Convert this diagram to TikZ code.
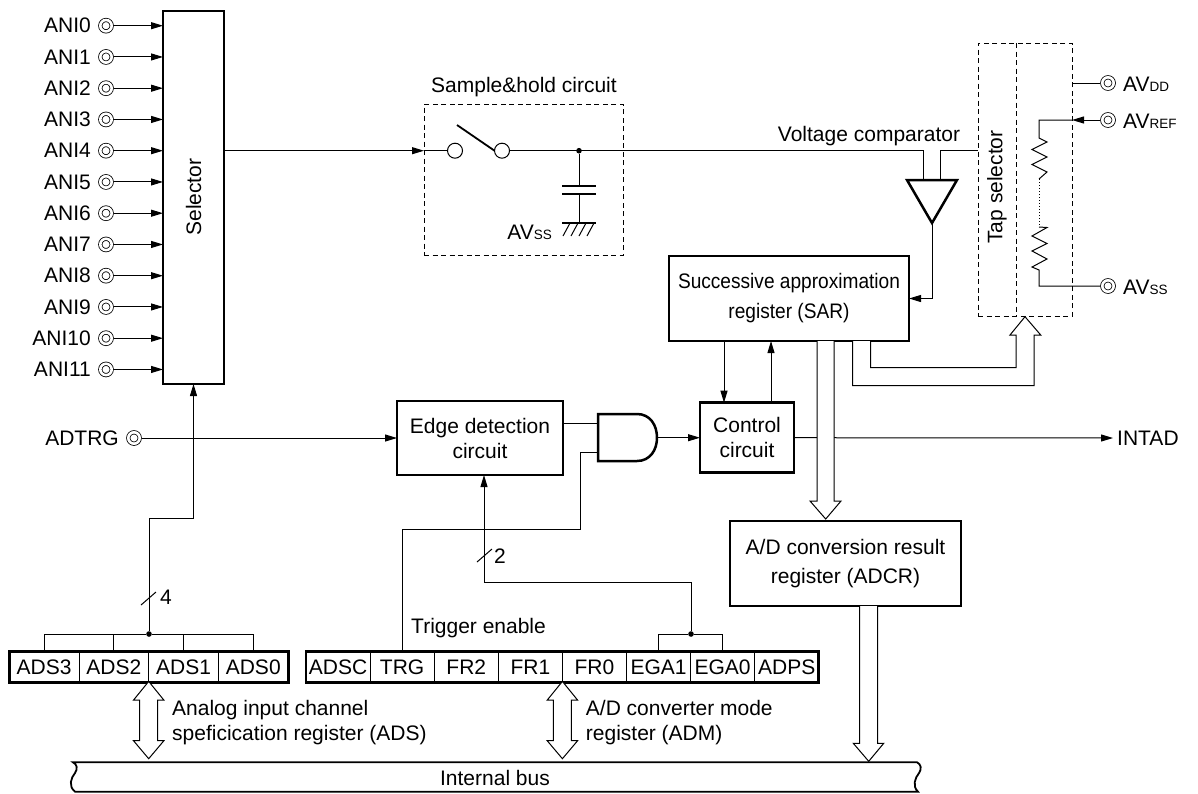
\documentclass[tikz,border=0pt]{standalone}
\usepackage{fontspec}
\setmainfont{Liberation Sans}
\newfontfamily\narrowfont[FakeStretch=0.91]{Liberation Sans}
\usetikzlibrary{arrows.meta,calc}
\newcommand{\lowtext}[1]{{\fontsize{13.5}{14}\selectfont #1}}
\newcommand{\busboth}[1]{\draw[bus] ([yshift=1.3pt]#1) -- ++(15.2,18.7) -- ++(-6.2,0) -- ++(0,40.6) -- ++(6.2,0) -- ++(-15.2,18) -- ++(-15.2,-18) -- ++(6.2,0) -- ++(0,-40.6) -- ++(-6.2,0) -- cycle;}

\begin{document}
\begin{tikzpicture}[x=1pt,y=-1pt,
  every node/.style={font=\fontsize{21}{25}\selectfont},
  wire/.style={line width=1pt},
  conn/.style={line width=1pt, -{Stealth[length=12pt,width=7pt,inset=0pt]}},
  regbox/.style={draw, line width=2.8pt, fill=white, inner sep=0pt, outer sep=0pt, align=center},
  cell/.style={draw, line width=1pt, inner sep=0pt, outer sep=0pt, minimum height=31pt},
  dashbox/.style={draw, line width=1pt, dash pattern=on 5pt off 3.5pt, inner sep=0pt, outer sep=0pt},
  terminal/.style={circle, draw, line width=.8pt, double, double distance=2.6pt, minimum size=11.4pt, inner sep=0pt, outer sep=2pt},
  contact/.style={circle, draw, line width=1pt, fill=white, minimum size=15pt, inner sep=0pt, outer sep=0pt},
  junction/.style={circle, fill=black, minimum size=5.6pt, inner sep=0pt, outer sep=0pt},
  gate/.style={line width=2.5pt, line join=miter},
  bus/.style={draw, fill=white, line width=1pt, line join=miter}
]
  \useasboundingbox (0,0) rectangle (1198,793);

  \node[regbox, minimum width=61pt, minimum height=373pt] (selector) at (193.5,197.5) {};
  \node[rotate=90, inner sep=0pt] (selectorlbl) at (193.5,197) {Selector};
  \foreach \i in {0,...,11} {
    \node[terminal] (ani\i) at (106,{25.7+31.25*\i}) {};
    \node[anchor=east, inner sep=0pt] (anilbl\i) at (91,{25.7+31.25*\i}) {ANI\i};
    \draw[conn] (ani\i) -- (selector.west |- ani\i);
  }

  \node[dashbox, minimum width=199pt, minimum height=151pt] (sample) at (523.5,179.5) {};
  \node[inner sep=0pt] (samplelbl) at (524,87) {Sample\&hold circuit};
  \node[contact] (sw1) at (455,150.7) {};
  \node[contact] (sw2) at (502,150.7) {};
  \node[junction] (capdot) at (579,150.7) {};
  \coordinate (capa) at (579,186);
  \coordinate (capb) at (579,194);
  \coordinate (capgnd) at (579,223);
  \draw[conn] (selector.east |- sw1) -- (sample.west |- sw1);
  \draw[wire] (sample.west |- sw1) -- (sw1);
  \draw[line width=1.8pt] (457,125) -- (sw2.west);
  \draw[wire] (capdot) -- (capa);
  \draw[wire] (capb) -- (capgnd);
  \draw[line width=2pt] ([xshift=-17pt]capa) -- ([xshift=17pt]capa);
  \draw[line width=2pt] ([xshift=-17pt]capb) -- ([xshift=17pt]capb);
  \draw[line width=2pt] ([xshift=-17pt]capgnd) -- ([xshift=17pt]capgnd);
  \foreach \i in {0,...,3} \draw[wire] ({570+8*\i},223) -- ({563+8*\i},236);
  \node[anchor=east, inner sep=0pt] (capvss) at (552,232) {AV\lowtext{SS}};

  \node[dashbox, minimum width=94pt, minimum height=273pt] (tap) at (1025,179.5) {};
  \draw[dashbox] ([xshift=-9pt]tap.north) -- ([xshift=-9pt]tap.south);
  \node[rotate=90, inner sep=0pt] (taplbl) at (997,187) {Tap selector};
  \node[inner sep=0pt] (cmplbl) at (869,136) {Voltage comparator};

  \coordinate (cmpa) at (923,180);
  \coordinate (cmpb) at (940,180);
  \coordinate (cmpout) at (932,223);
  \draw[gate] (907,180) -- (957,180) -- (cmpout) -- cycle;
  \draw[wire] (sw2) -| (cmpa);
  \draw[wire] (cmpb) |- (tap.west |- sw2);

  \node[terminal] (avdd) at (1108,83) {};
  \node[terminal] (avref) at (1108,120) {};
  \node[terminal] (avss) at (1108,286) {};
  \node[anchor=west, inner sep=0pt] (avddlbl) at (1123,84) {AV\lowtext{DD}};
  \node[anchor=west, inner sep=0pt] (avreflbl) at (1123,121) {AV\lowtext{REF}};
  \node[anchor=west, inner sep=0pt] (avsslbl) at (1123,287) {AV\lowtext{SS}};
  \draw[wire] (tap.east |- avdd) -- (avdd);
  \draw[conn] (avref) -- (tap.east |- avref);
  \draw[wire] (tap.east |- avref) -- (1039,120) -- (1039,138) -- (1047,142) -- (1032,149.5) -- (1047,157) -- (1032,164.5) -- (1047,172) -- (1039,179);
  \draw[wire, dotted] (1039,179) -- (1039,227);
  \draw[wire] (1039,227) -- (1047,227.5) -- (1032,236) -- (1047,243.5) -- (1032,251) -- (1047,259) -- (1032,267) -- (1039,270) -- (1039,286) -- (avss);

  \node[regbox, minimum width=240pt, minimum height=85pt] (sar) at (789,298.5) {};
  \node[inner sep=0pt, font=\narrowfont\fontsize{21}{30}\selectfont, align=center] (sarlbl) at (789,298.5) {Successive approximation\\register (SAR)};
  \draw[conn] (cmpout) |- (sar.east);

  \node[regbox, minimum width=94pt, minimum height=70pt] (ctrl) at (747,437.7) {Control\\circuit};
  \node[regbox, minimum width=166pt, minimum height=74pt] (edge) at (480,438) {Edge detection\\circuit};
  \node[regbox, minimum width=231pt, minimum height=85pt] (adcr) at (845.5,563.5) {};
  \node[inner sep=0pt, font=\fontsize{21}{29}\selectfont, align=center] (adcrlbl) at (845.5,563.5) {A/D conversion result\\register (ADCR)};

  \node[terminal] (adtrg) at (134,438) {};
  \node[anchor=east, inner sep=0pt] (adtrglbl) at (119,438) {ADTRG};
  \node[anchor=west, inner sep=0pt] (intad) at (1117,438) {INTAD};

  \coordinate (gatein1) at (598,423);
  \coordinate (gatein2) at (598,452);
  \coordinate (gateout) at (657,437.7);
  \draw[gate] (598,414) -- (637,414) .. controls (650,414) and (657,425) .. (gateout) .. controls (657,450) and (650,461) .. (637,461) -- (598,461) -- cycle;

  \draw[conn] (adtrg) -- (edge.west);
  \draw[wire] (edge.east |- gatein1) -- (gatein1);
  \draw[conn] (gateout) -- (ctrl.west);
  \draw[conn] ([xshift=-65pt]sar.south) -- ([xshift=-65pt]sar.south |- ctrl.north);
  \draw[conn] ([xshift=-18pt]sar.south |- ctrl.north) -- ([xshift=-18pt]sar.south);
  \draw[conn] (ctrl.east) -- ([xshift=-4pt]intad.west);

  \draw[bus] ([xshift=28pt]sar.south) -- ++(0,160) -- ++(-7,0) -- ++(15.7,18) -- ++(15.3,-18) -- ++(-7,0) -- ++(0,-160);
  \draw[bus] ([xshift=63.7pt]sar.south) -- ++(0,44.7) -- ++(181.3,0) -- ++(0,-50.7) -- ++(6.7,0) -- ++(-15.7,-18.3) -- ++(-15,18.3) -- ++(6,0) -- ++(0,32.7) -- ++(-145.3,0) -- ++(0,-26.7);

  \foreach \n/\t [count=\i] in {ads3/ADS3,ads2/ADS2,ads1/ADS1,ads0/ADS0}
    \node[cell, minimum width=69.7pt] (\n) at ({9.3+69.7*(\i-.5)},667.2) {\t};
  \draw[regbox, fill=none] (ads3.north west) rectangle (ads0.south east);
  \foreach \n/\t [count=\i] in {adsc/ADSC,trg/TRG,fr2/FR2,fr1/FR1,fr0/FR0,ega1/EGA1,ega0/EGA0,adps/ADPS}
    \node[cell, minimum width=64.1pt] (\n) at ({306+64.1*(\i-.5)},667.2) {\t};
  \draw[regbox, fill=none] (adsc.north west) rectangle (adps.south east);

  \node[junction] (adsdot) at (149,634) {};
  \node[junction] (egadot) at (691,634) {};
  \draw[wire] (ads3.north) |- (adsdot) -| (ads0.north);
  \draw[wire] (ads2.north) -- (ads2.north |- adsdot);
  \draw[wire] (ads1.north) -- (ads1.north |- adsdot);
  \draw[wire] (ega1.north) |- (egadot) -| (ega0.north);

  \coordinate (fourbits) at (149,518);
  \coordinate (twobits) at (484,582);
  \coordinate (trgbend) at (580,529);
  \draw[conn] (adsdot) -- (fourbits) -| (selector.south);
  \draw[conn] (egadot) |- (twobits) -- ([xshift=4pt]edge.south);
  \draw[wire] (gatein2) -| (trgbend) -| (trg.north);
  \draw[wire] (141,605) -- (156,592);
  \draw[wire] (477,562) -- (492,549);
  \node[inner sep=0pt] (fourlbl) at (166,597) {4};
  \node[inner sep=0pt] (twolbl) at (500,556) {2};
  \node[anchor=west, inner sep=0pt] (trglbl) at (411,628) {Trigger enable};

  \node[anchor=west, inner sep=0pt, align=left] (adslbl) at (172,723) {Analog input channel\\speficication register (ADS)};
  \node[anchor=west, inner sep=0pt, align=left] (admlbl) at (585.7,723) {A/D converter mode\\register (ADM)};

  \busboth{ads2.south east}
  \busboth{fr1.south east}
  \draw[bus] ([xshift=14.2pt]adcr.south) -- ++(0,137.3) -- ++(-6.4,0) -- ++(15.4,18) -- ++(15,-18) -- ++(-6,0) -- ++(0,-137.3);

  \draw[line width=1.8pt] (73,762.3) -- (917,762.3) .. controls (921,764) and (922,769) .. (919,773) .. controls (915,778) and (912,786) .. (918,791.7) -- (75,791.7) .. controls (68,786) and (71,778) .. (75,773) .. controls (78,769) and (77,764) .. (73,762.3) -- cycle;
  \node[inner sep=0pt] (buslbl) at (495,778) {Internal bus};
\end{tikzpicture}
\end{document}
